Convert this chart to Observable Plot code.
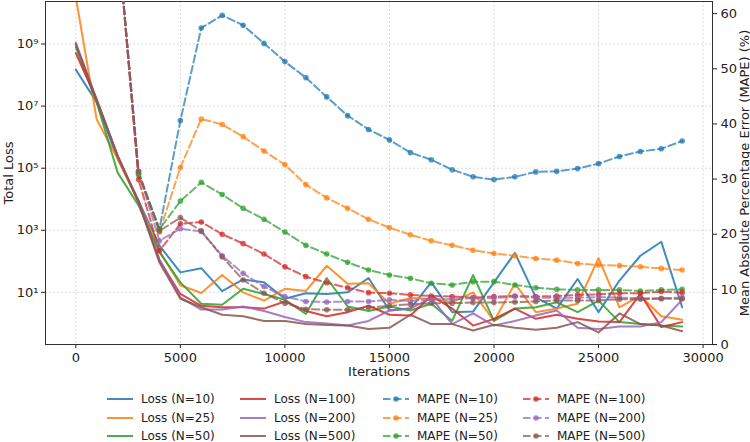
<!DOCTYPE html>
<html><head><meta charset="utf-8">
<script src="https://cdn.jsdelivr.net/npm/d3@7"></script>
<script src="https://cdn.jsdelivr.net/npm/@observablehq/plot@0.6"></script>
<style>
body{margin:0;background:#fff;font-family:"DejaVu Sans",sans-serif;}
#wrap{position:relative;width:750px;height:384px;}
#wrap svg{position:absolute;left:0;top:0;}
#legend{position:relative;width:750px;height:58px;font-size:12px;color:#222;font-family:"DejaVu Sans",sans-serif;}
.item{position:absolute;display:flex;align-items:center;height:16px;white-space:nowrap;}
.item svg{margin-right:8px;}
</style></head><body>
<div id="wrap"></div><div id="legend"></div>
<script>
const iterations = [0,1000,2000,3000,4000,5000,6000,7000,8000,9000,10000,11000,12000,13000,14000,15000,16000,17000,18000,19000,20000,21000,22000,23000,24000,25000,26000,27000,28000,29000];
const seriesNames = ["N=10","N=25","N=50","N=100","N=200","N=500"];
const colors = ["#1f77b4","#ff7f0e","#2ca02c","#d62728","#9467bd","#8c564b"];

const lossN10  = [1.5e8,1.3e7,2.0e5,8.9e3,320,44,60,11,26,21,6.2,9.3,8.9,10,29,2.6,3.0,21,2.3,2.4,21,186,6.9,3.0,27,2.3,24,151,427,3.3];
const lossN25  = [3.2e10,3.7e6,2.0e5,7.9e3,220,17,9.5,36,10,5.4,13,11,72,19,19.5,4.3,6.6,6.2,4.8,10,1.2,19,2.3,3.0,4.3,126,3.3,7.8,1.7,1.3];
const lossN50  = [8.0e8,1.3e7,7.2e4,6.3e3,195,21,4.3,4.0,13,8.9,5.8,2.0,29,3.5,2.5,3.5,2.6,4.3,1.2,36,1.2,3.0,3.3,4.8,2.3,5.4,1.1,0.95,0.85,0.8];
const lossN100 = [5.1e8,1.6e7,2.5e5,8.9e3,105,8.9,3.7,3.3,3.3,3.0,5.1,2.5,1.7,2.3,3.7,1.9,1.8,7.8,3.0,0.85,1.4,3.0,1.4,1.9,1.4,1.15,1.1,8.9,0.76,1.1];
const lossN200 = [1.1e9,1.6e7,2.5e5,7.9e3,117,6.9,2.8,2.8,3.5,2.5,1.6,1.1,1.0,0.85,1.2,2.6,3.0,6.6,0.95,2.1,0.85,1.2,1.8,2.6,0.72,0.66,0.8,0.8,1.1,5.8];
const lossN500 = [1.0e9,1.6e7,2.5e5,7.9e3,91,6.2,3.3,1.9,1.7,1.2,1.2,0.95,0.89,0.85,0.66,0.72,1.9,0.95,0.95,0.59,0.91,0.72,0.62,0.72,1.1,0.51,2.1,0.95,0.85,0.56];

const mapeN10  = [100,88,74,31,21,40.6,57.4,59.7,57.9,54.6,51.3,48.4,44.9,41.5,39.0,37.1,34.8,33.5,31.7,30.4,29.9,30.4,31.3,31.4,31.9,32.8,34.1,35.0,35.5,36.9];
const mapeN25  = [100,88,74,31,20.4,32.1,40.9,39.9,37.7,35.1,32.6,29.0,26.6,24.7,22.7,21.2,19.9,18.8,18.0,17.1,16.5,16.1,15.6,15.3,14.7,14.4,14.3,14.1,13.8,13.5];
const mapeN50  = [100,88,74,30.8,20.9,26.0,29.4,27.2,24.7,22.7,20.4,18.0,16.4,14.9,13.5,12.6,12.0,11.1,10.8,11.4,11.4,10.8,10.3,10.0,9.9,9.9,9.9,9.7,9.9,10.0];
const mapeN100 = [100,88,74,29.9,17.0,21.9,22.2,20.0,18.3,16.4,14.1,12.3,11.2,10.3,9.4,9.3,9.0,8.8,8.7,8.5,8.7,8.8,8.7,8.8,9.0,9.1,9.3,9.3,9.6,9.4];
const mapeN200 = [100,88,74,31.4,18.8,21.0,20.5,16.1,12.9,10.5,8.7,7.8,7.7,7.8,7.8,8.1,7.9,8.2,8.2,8.4,8.4,8.7,8.5,8.5,8.5,8.6,8.5,8.4,8.4,8.5];
const mapeN500 = [100,88,74,31.4,20.6,23.0,20.6,15.9,11.7,9.3,7.5,6.4,6.3,6.3,6.7,7.0,7.3,7.5,7.5,7.6,7.6,7.7,7.8,8.0,8.0,8.0,8.2,8.2,8.3,8.3];

const xTicks = [0,5000,10000,15000,20000,25000,30000];
const lossTicks = [1e1,1e3,1e5,1e7,1e9];
const lossTickLabels = ["10¹","10³","10⁵","10⁷","10⁹"];
const mapeTicks = [0,10,20,30,40,50,60];

const lossSeries = [lossN10,lossN25,lossN50,lossN100,lossN200,lossN500];
const mapeSeries = [mapeN10,mapeN25,mapeN50,mapeN100,mapeN200,mapeN500];

const lossRows = seriesNames.flatMap((s,i)=>iterations.map((it,j)=>({it, v: lossSeries[i][j], s})));
const mapeRows = seriesNames.flatMap((s,i)=>iterations.map((it,j)=>({it, v: mapeSeries[i][j], s})));

const W = 750, H = 384;
const common = {
  width: W, height: H, marginLeft: 45, marginRight: 38, marginTop: 1, marginBottom: 40,
  color: {domain: seriesNames, range: colors}
};
const xDomain = [-1450, 30450];

const p1 = Plot.plot({
  ...common,
  style: {fontFamily: "DejaVu Sans, sans-serif", fontSize: "13px", color: "#222", background: "white"},
  x: {domain: xDomain, ticks: xTicks, tickFormat: d3.format("d"), label: "Iterations", labelArrow: "none", labelAnchor: "center", labelOffset: 31, tickSize: 4, tickPadding: 4},
  y: {type: "log", domain: [10 ** -0.68, 10 ** 10.37], ticks: lossTicks, tickFormat: d => lossTickLabels[lossTicks.indexOf(d)], label: "Total Loss", labelArrow: "none", labelAnchor: "center", labelOffset: 42, tickSize: 4, tickPadding: 3},
  marks: [
    Plot.ruleY(lossTicks, {stroke: "#b0b0b0", strokeDasharray: "2,2", strokeOpacity: 0.45}),
    Plot.ruleX(xTicks.filter(d => d <= xDomain[1]), {stroke: "#b0b0b0", strokeDasharray: "2,2", strokeOpacity: 0.45}),
    Plot.line(lossRows, {x: "it", y: "v", z: "s", stroke: "s", strokeWidth: 2, strokeOpacity: 0.85, clip: true}),
    Plot.frame({stroke: "#333"})
  ]
});

const p2 = Plot.plot({
  ...common,
  style: {fontFamily: "DejaVu Sans, sans-serif", fontSize: "13px", color: "#222", background: "transparent"},
  x: {domain: xDomain, axis: null},
  y: {domain: [0, 62.2], axis: "right", ticks: mapeTicks, label: "Mean Absolute Percentage Error (MAPE) (%)", labelArrow: "none", labelAnchor: "center", labelOffset: 36, tickSize: 4, tickPadding: 4},
  marks: [
    Plot.line(mapeRows, {x: "it", y: "v", z: "s", stroke: "s", strokeWidth: 2, strokeOpacity: 0.72, strokeDasharray: "7.5,3.5", clip: true}),
    Plot.dot(mapeRows, {x: "it", y: "v", fill: "s", r: 2.8, fillOpacity: 0.75, clip: true})
  ]
});

const wrap = document.getElementById("wrap");
wrap.appendChild(p1);
wrap.appendChild(p2);

// Legend
const legend = document.getElementById("legend");
const colX = [{sx: 107, kind: "loss", idx: [0,1,2]}, {sx: 240, kind: "loss", idx: [3,4,5]}, {sx: 383, kind: "mape", idx: [0,1,2]}, {sx: 523, kind: "mape", idx: [3,4,5]}];
const rowY = [7, 25.5, 43.5];
colX.forEach(col => {
  col.idx.forEach((k, r) => {
    const div = document.createElement("div");
    div.className = "item";
    div.style.left = col.sx + "px";
    div.style.top = rowY[r] + "px";
    const c = colors[k];
    const sw = col.kind === "loss"
      ? `<svg width="26" height="10"><line x1="0" y1="5" x2="26" y2="5" stroke="${c}" stroke-width="2" stroke-opacity="0.85"/></svg>`
      : `<svg width="26" height="10"><line x1="0" y1="5" x2="26" y2="5" stroke="${c}" stroke-width="2" stroke-opacity="0.72" stroke-dasharray="7.5,3.5"/><circle cx="13" cy="5" r="2.8" fill="${c}" fill-opacity="0.75"/></svg>`;
    const label = (col.kind === "loss" ? "Loss" : "MAPE") + " (" + seriesNames[k] + ")";
    div.innerHTML = sw + "<span>" + label + "</span>";
    legend.appendChild(div);
  });
});
</script>
</body></html>
